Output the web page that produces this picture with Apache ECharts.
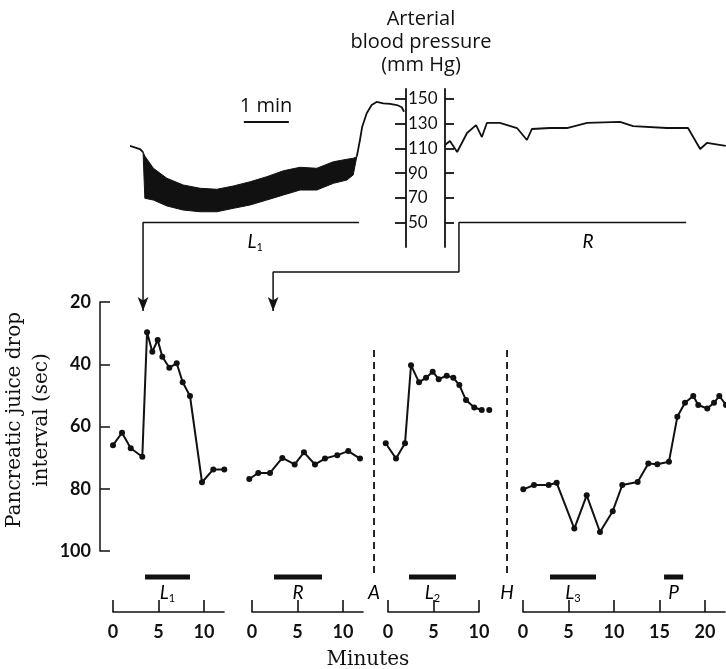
<!DOCTYPE html>
<html>
<head>
<meta charset="utf-8">
<script src="https://cdn.jsdelivr.net/npm/echarts@6/dist/echarts.min.js"></script>
<style>
html, body { margin: 0; padding: 0; background: #fff; }
#chart { width: 726px; height: 669px; }
</style>
</head>
<body>
<div id="chart"></div>
<script>
// ---- blood pressure trace (kymograph minutes, mm Hg) ----
var bpPreT = [0, 0.22, 0.29];
var bpPreP = [112, 109.5, 107];

// pulse band during left stimulation: upper and lower edge
var bandT     = [0.29, 0.33, 0.52, 0.82, 1.18, 1.56, 1.93, 2.30, 2.67, 3.04, 3.41, 3.78, 4.15, 4.52, 4.82, 4.96, 5.04];
var bandUpper = [107, 103.8, 93.9, 85.8, 80.4, 77.7, 76.9, 79.6, 83.0, 87.1, 91.9, 94.7, 93.9, 99.2, 101.2, 102, 103.3];
var bandLower = [107, 69.6, 68.2, 63.4, 60.1, 58.7, 58.7, 61.5, 64.2, 68.2, 72.3, 76.3, 76.3, 81.7, 84.4, 88.5, 103.3];

var bpRiseT = [5.04, 5.11, 5.16, 5.26, 5.37, 5.48, 5.63, 5.78, 5.93, 6.04, 6.09];
var bpRiseP = [103.3, 116.8, 127.6, 138.4, 145.1, 147.6, 146.5, 146, 145.1, 143.3, 139.7];

var bpRightT = [7.0, 7.11, 7.27, 7.49, 7.69, 7.82, 7.93, 8.22, 8.6, 8.82, 8.93, 9.33, 9.71, 10.16, 10.89, 11.18, 11.93, 12.4, 12.67, 12.82, 13.24];
var bpRightP = [112.8, 116, 107.1, 122.5, 128.9, 119.2, 130.6, 130.6, 126.5, 116.8, 125.7, 126.5, 126.5, 130.6, 131.4, 128.1, 126.5, 126.5, 109.5, 114.4, 112];

var bpTicks = [50, 70, 90, 110, 130, 150];
var oneMinT = [2.53, 3.53];
var oneMinP = 131.4;

// stimulation brackets under the trace, and the arrows down to the lower chart
var l1BracketT = [0.29, 0.29, 5.09];
var l1BracketP = [-21.7, 50, 50];
var rBracketT = [3.18, 3.18, 7.31, 7.31, 12.36];
var rBracketP = [-21.7, 10, 10, 50, 50];
var bpTagName = ['L1', 'R'];
var bpTagT = [2.78, 10.18];

// ---- pancreatic juice drop interval (sec) vs minutes, four records ----
var seg1T = [0, 0.99, 1.95, 3.22, 3.74, 4.32, 4.91, 5.42, 6.19, 7.0, 7.66, 8.46, 9.78, 11.02, 12.23];
var seg1V = [66, 62, 67, 69.7, 29.7, 36, 32.2, 37.6, 41.1, 39.7, 45.8, 50.2, 77.9, 73.8, 73.8];
var seg2T = [-0.3, 0.69, 1.98, 3.33, 4.69, 5.71, 6.92, 8.02, 9.37, 10.58, 11.87];
var seg2V = [76.9, 74.9, 74.9, 70.1, 72.2, 68.3, 72.2, 70.3, 69.2, 67.9, 70.3];
var seg3T = [-0.25, 0.88, 1.87, 2.53, 3.41, 4.18, 4.91, 5.57, 6.45, 7.18, 7.84, 8.57, 9.48, 10.3, 11.13];
var seg3V = [65.4, 70.3, 65.4, 40.3, 45.8, 44.3, 42.4, 44.8, 43.7, 44.3, 46.7, 51.5, 53.9, 54.7, 54.7];
var seg4T = [0.03, 1.21, 2.82, 3.7, 5.64, 7.0, 8.46, 9.86, 10.91, 12.6, 13.77, 14.76, 16.04, 16.96, 17.8, 18.71, 19.26, 20.25, 20.99, 21.57, 22.31];
var seg4V = [80.2, 78.8, 78.8, 78.1, 92.8, 82.1, 93.9, 87.2, 78.8, 77.8, 71.9, 72.1, 71.3, 56.9, 52.4, 50.2, 53.1, 54.2, 52.4, 50.2, 53.1];
var segT = [seg1T, seg2T, seg3T, seg4T];
var segV = [seg1V, seg2V, seg3V, seg4V];
var segMax = [12.2, 12.2, 10, 22.2];
var segTicks = [[0, 5, 10], [0, 5, 10], [0, 5, 10], [0, 5, 10, 15, 20]];

// stimulation periods (bars) under each record
var periodSeg  = [0, 1, 2, 3, 3];
var periodFrom = [3.52, 2.42, 2.31, 2.97, 15.5];
var periodTo   = [8.46, 7.69, 7.47, 8.02, 17.6];
var periodName = ['L1', 'R', 'L2', 'L3', 'P'];

// events marked by dashed lines
var eventSeg  = [1, 2];
var eventT    = [13.41, 13.08];
var eventName = ['A', 'H'];

// ---- layout ----
var ink = '#111';
var sans = 'Lato';
var wide = 'Open Sans';
var serif = 'DejaVu Serif';
var segLeft = [113, 252, 388, 523];
var pxPerMin = 9.1;
var juiceTop = 302, juicePx = 249 / 80;
var segHeight = 310;
var segYMax = 20 + segHeight / juicePx;
var barRowV = 20 + (577 - juiceTop) / juicePx;
var eventTopV = 20 + (350 - juiceTop) / juicePx;
var eventBottomV = 20 + (574 - juiceTop) / juicePx;

function pairs(t, v) {
    return t.map(function (x, i) { return [x, v[i]]; });
}

function tagText(name) {
    var m = name.match(/^([A-Z])(\d?)$/);
    return m[2] ? '{i|' + m[1] + '}{s|' + m[2] + '}' : '{i|' + m[1] + '}';
}

var tagRich = {
    i: { fontFamily: sans, fontStyle: 'italic', fontSize: 19, color: ink, lineHeight: 22 },
    s: { fontFamily: sans, fontSize: 11, color: ink, lineHeight: 12, verticalAlign: 'bottom' }
};

function traceSeries(xi, yi, data, width) {
    return {
        type: 'line', xAxisIndex: xi, yAxisIndex: yi, data: data,
        symbol: 'none', clip: false, silent: true,
        lineStyle: { color: ink, width: width }
    };
}

function bracketSeries(t, p) {
    var data = pairs(t, p);
    data[0] = { value: data[0], symbol: 'arrow', symbolSize: [8, 14], symbolRotate: 180 };
    return {
        type: 'line', xAxisIndex: 0, yAxisIndex: 0, data: data,
        symbol: 'none', showSymbol: true, clip: false, silent: true,
        itemStyle: { color: ink },
        lineStyle: { color: ink, width: 1.5 }
    };
}

var series = [
    traceSeries(0, 0, pairs(bpPreT, bpPreP), 1.8),
    {
        type: 'custom', xAxisIndex: 0, yAxisIndex: 0, silent: true,
        data: [[bandT[0], bandUpper[0]]],
        renderItem: function (params, api) {
            var pts = [];
            for (var i = 0; i < bandT.length; i++) pts.push(api.coord([bandT[i], bandUpper[i]]));
            for (var j = bandT.length - 1; j >= 0; j--) pts.push(api.coord([bandT[j], bandLower[j]]));
            return { type: 'polygon', shape: { points: pts }, style: { fill: ink, stroke: ink, lineWidth: 1 } };
        }
    },
    traceSeries(0, 0, pairs(bpRiseT, bpRiseP), 1.8),
    traceSeries(0, 0, pairs(bpRightT, bpRightP), 1.8),
    traceSeries(0, 0, [[oneMinT[0], oneMinP], [oneMinT[1], oneMinP]], 2),
    bracketSeries(l1BracketT, l1BracketP),
    bracketSeries(rBracketT, rBracketP),
    {
        type: 'custom', xAxisIndex: 0, yAxisIndex: 0, silent: true,
        data: bpTagT.map(function (t, k) { return [t, 50, k]; }),
        renderItem: function (params, api) {
            var c = api.coord([api.value(0), api.value(1)]);
            return { type: 'text', style: { x: c[0], y: c[1] + 19, text: tagText(bpTagName[api.value(2)]), rich: tagRich, align: 'center', verticalAlign: 'middle' } };
        }
    }
];

segT.forEach(function (t, s) {
    series.push({
        type: 'line', xAxisIndex: s + 3, yAxisIndex: s + 4,
        data: pairs(t, segV[s]), clip: false, silent: true,
        symbol: 'circle', symbolSize: 6,
        itemStyle: { color: ink },
        lineStyle: { color: ink, width: 2 }
    });
    var idx = [];
    periodSeg.forEach(function (g, k) { if (g === s) idx.push(k); });
    series.push({
        type: 'custom', xAxisIndex: s + 3, yAxisIndex: s + 4, silent: true,
        data: idx.map(function (k) { return [periodFrom[k], periodTo[k], k]; }),
        renderItem: function (params, api) {
            var a = api.coord([api.value(0), barRowV]);
            var b = api.coord([api.value(1), barRowV]);
            return {
                type: 'group', children: [
                    { type: 'rect', shape: { x: a[0], y: a[1] - 2.5, width: b[0] - a[0], height: 5 }, style: { fill: ink } },
                    { type: 'text', style: { x: (a[0] + b[0]) / 2, y: a[1] + 16, text: tagText(periodName[api.value(2)]), rich: tagRich, align: 'center', verticalAlign: 'middle' } }
                ]
            };
        }
    });
});

eventSeg.forEach(function (s, k) {
    series.push({
        type: 'custom', xAxisIndex: s + 3, yAxisIndex: s + 4, silent: true,
        data: [[eventT[k], eventTopV, k]],
        renderItem: function (params, api) {
            var a = api.coord([api.value(0), eventTopV]);
            var b = api.coord([api.value(0), eventBottomV]);
            return {
                type: 'group', children: [
                    { type: 'line', shape: { x1: a[0], y1: a[1], x2: b[0], y2: b[1] }, style: { stroke: ink, lineWidth: 1.8, lineDash: [7, 5] } },
                    { type: 'text', style: { x: b[0], y: b[1] + 19, text: tagText(eventName[api.value(2)]), rich: tagRich, align: 'center', verticalAlign: 'middle' } }
                ]
            };
        }
    });
});

var grids = [
    { left: 130, right: 0, top: 99, height: 123.5 },
    { left: 406, width: 39, top: 89, height: 158 },
    { left: 100, width: 5, top: juiceTop, height: 249 }
];
var xAxes = [
    { gridIndex: 0, type: 'value', min: 0, max: 596 / 45, show: false },
    { gridIndex: 1, type: 'value', min: 0, max: 1, show: false },
    { gridIndex: 2, type: 'value', min: 0, max: 1, show: false }
];
var bpMin = 50 - (247 - 222.5) / 1.235, bpMax = 150 + 10 / 1.235;
var yAxes = [
    { gridIndex: 0, type: 'value', min: 50, max: 150, show: false },
    {
        gridIndex: 1, type: 'value', position: 'left', min: bpMin, max: bpMax,
        axisLine: { lineStyle: { color: ink, width: 1.8 } },
        axisTick: { length: 11, customValues: bpTicks, lineStyle: { color: ink, width: 1.8 } },
        axisLabel: { inside: true, margin: 2, customValues: bpTicks, color: ink, fontFamily: sans, fontSize: 17 },
        splitLine: { show: false }
    },
    {
        gridIndex: 1, type: 'value', position: 'right', min: bpMin, max: bpMax,
        axisLine: { lineStyle: { color: ink, width: 1.8 } },
        axisTick: { length: 9, customValues: bpTicks, lineStyle: { color: ink, width: 1.8 } },
        axisLabel: { show: false },
        splitLine: { show: false }
    },
    {
        gridIndex: 2, type: 'value', inverse: true, min: 20, max: 100, interval: 20,
        name: 'Pancreatic juice drop\ninterval (sec)', nameLocation: 'middle', nameRotate: 90, nameGap: 43,
        nameTextStyle: { fontFamily: serif, fontSize: 20, lineHeight: 27, color: ink, padding: [0, 0, 0, 13] },
        axisLine: { lineStyle: { color: ink, width: 1.5 } },
        axisTick: { inside: true, length: 10, lineStyle: { color: ink, width: 1.5 } },
        axisLabel: { margin: 9, color: ink, fontFamily: sans, fontWeight: 'bold', fontSize: 18 },
        splitLine: { show: false }
    }
];
segMax.forEach(function (m, s) {
    grids.push({ left: segLeft[s], width: m * pxPerMin, top: juiceTop, height: segHeight });
    xAxes.push({
        gridIndex: s + 3, type: 'value', min: 0, max: m,
        axisLine: { lineStyle: { color: ink, width: 1.6 } },
        axisTick: { inside: true, length: 12, customValues: segTicks[s], lineStyle: { color: ink, width: 1.6 } },
        axisLabel: { margin: 11, customValues: segTicks[s], color: ink, fontFamily: sans, fontWeight: 'bold', fontSize: 18 },
        splitLine: { show: false }
    });
    yAxes.push({ gridIndex: s + 3, type: 'value', inverse: true, min: 20, max: segYMax, show: false });
});

var chart = echarts.init(document.getElementById('chart'));
chart.setOption({
    animation: false,
    backgroundColor: '#fff',
    grid: grids,
    xAxis: xAxes,
    yAxis: yAxes,
    series: series,
    graphic: [
        { type: 'text', style: { x: 421, y: 42, text: 'Arterial\nblood pressure\n(mm Hg)', align: 'center', verticalAlign: 'middle', lineHeight: 23, fontFamily: wide, fontSize: 20, fill: ink } },
        { type: 'text', style: { x: 266, y: 106, text: '1 min', align: 'center', verticalAlign: 'middle', fontFamily: wide, fontSize: 20, fill: ink } },
        { type: 'text', style: { x: 368, y: 660, text: 'Minutes', align: 'center', verticalAlign: 'middle', fontFamily: serif, fontSize: 20, fill: ink } }
    ]
});
</script>
</body>
</html>
